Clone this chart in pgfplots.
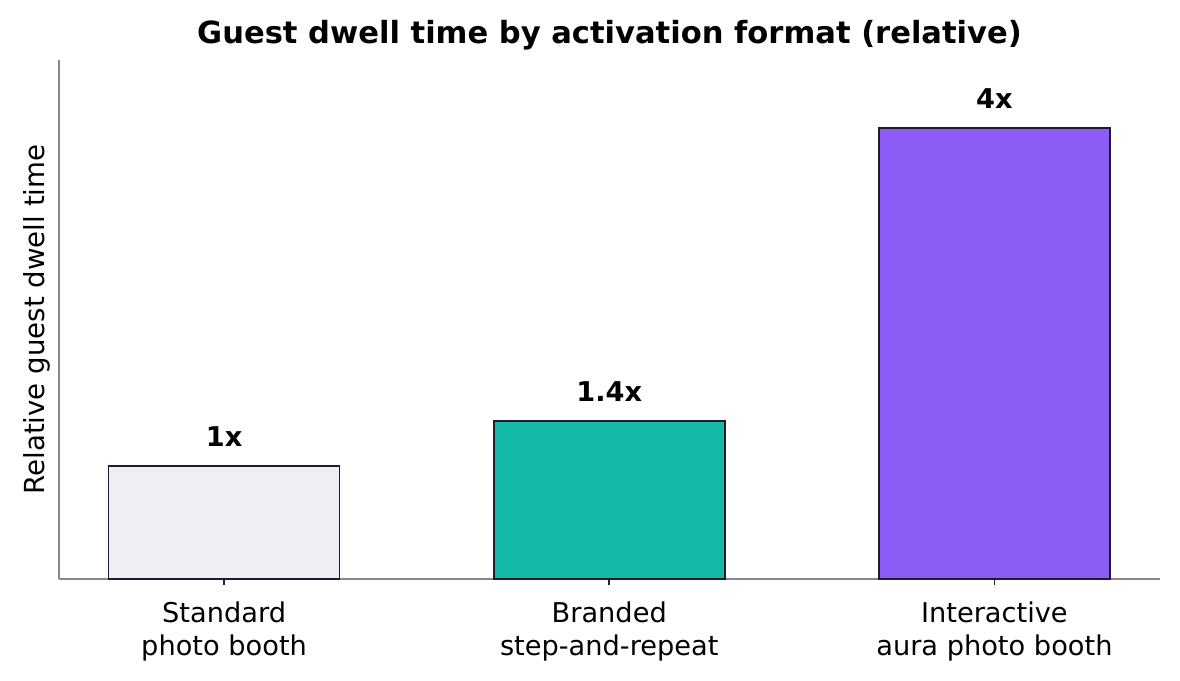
\documentclass[border=0pt]{standalone}
\usepackage{pgfplots}
\pgfplotsset{compat=1.18}
\usepackage{fontspec}
\setmainfont{DejaVu Sans}
\definecolor{barA}{HTML}{EEF0F5}
\definecolor{barB}{HTML}{14B8A6}
\definecolor{barC}{HTML}{8B5CF6}
\definecolor{edgec}{HTML}{1E1B2E}
\definecolor{spine}{HTML}{888888}
\definecolor{tickc}{HTML}{222222}
\begin{document}
\begin{tikzpicture}
\path[use as bounding box] (-21.24pt,-36.36pt) rectangle (403.56pt,208.44pt);
\begin{axis}[
  at={(0,0)}, anchor=south west,
  scale only axis,
  width=396.36pt, height=186.84pt,
  xmin=-0.4286, xmax=2.43,
  ymin=0, ymax=4.6,
  clip=false,
  axis x line*=bottom, axis y line*=left,
  axis line style={draw=spine, line width=0.8pt, -},
  xtick={0,1,2},
  xticklabels={Standard\\photo booth, Branded\\step-and-repeat, Interactive\\aura photo booth},
  ytick=\empty,
  tick align=outside,
  major tick length=2.2pt,
  x tick style={draw=tickc, line width=0.6pt},
  xticklabel style={font=\fontsize{9.8}{11.8}\selectfont, align=center, anchor=north, inner sep=0pt, yshift=-5.8pt},
  every node near coord/.append style={font=\fontsize{9.8}{11.5}\selectfont\bfseries, anchor=base, inner sep=0pt, yshift=7pt, text=black},
  nodes near coords,
  point meta=explicit symbolic,
]
\addplot[ybar, bar width=0.6, bar shift=0pt, fill=barA, draw=edgec, line width=0.6pt] coordinates {(0,1) [1x]};
\addplot[ybar, bar width=0.6, bar shift=0pt, fill=barB, draw=edgec, line width=0.6pt] coordinates {(1,1.4) [1.4x]};
\addplot[ybar, bar width=0.6, bar shift=0pt, fill=barC, draw=edgec, line width=0.6pt] coordinates {(2,4) [4x]};
\node[anchor=base, font=\fontsize{11}{13}\selectfont\bfseries, inner sep=0pt] at (rel axis cs:0.5,1) [yshift=6.1pt] {Guest dwell time by activation format (relative)};
\node[anchor=base, rotate=90, font=\fontsize{9.95}{11.5}\selectfont, inner sep=0pt, yshift=5.2pt] at (rel axis cs:0,0.5) {Relative guest dwell time};
\end{axis}
\end{tikzpicture}
\end{document}
